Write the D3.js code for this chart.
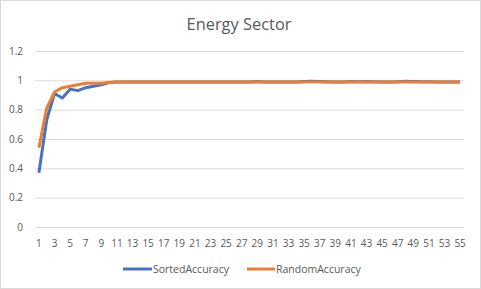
<!DOCTYPE html>
<html><head><meta charset="utf-8">
<script src="https://cdn.jsdelivr.net/npm/d3@7"></script>
<style>body{margin:0;background:#fff}svg{display:block}text{font-family:"Open Sans","Liberation Sans",sans-serif}</style>
</head><body><svg id="c" width="481" height="289"></svg>
<script>
const categories = d3.range(1, 56);
const sortedAccuracy = [0.37,0.73,0.91,0.88,0.94,0.93,0.95,0.96,0.97,0.985,
0.988,0.988,0.988,0.988,0.988,0.988,0.988,0.988,0.988,0.988,
0.988,0.988,0.988,0.988,0.988,0.988,0.988,0.988,0.992,0.988,
0.988,0.988,0.988,0.988,0.992,0.993,0.992,0.991,0.988,0.988,
0.992,0.991,0.992,0.990,0.988,0.988,0.991,0.993,0.992,0.991,
0.991,0.988,0.988,0.988,0.988];
const randomAccuracy = [0.54,0.81,0.92,0.95,0.96,0.97,0.98,0.98,0.98,0.985,
0.988,0.988,0.988,0.988,0.988,0.988,0.988,0.988,0.988,0.988,
0.988,0.988,0.988,0.988,0.988,0.988,0.988,0.988,0.988,0.988,
0.988,0.988,0.988,0.988,0.988,0.988,0.988,0.988,0.988,0.988,
0.988,0.988,0.988,0.988,0.988,0.988,0.988,0.988,0.988,0.988,
0.988,0.988,0.988,0.988,0.988];
const yTicks = [0,0.2,0.4,0.6,0.8,1,1.2];
const seriesNames = ["SortedAccuracy","RandomAccuracy"];
const colors = ["#4472C4","#ED7D31"];

const svg = d3.select("#c");
svg.append("rect").attr("x",0.5).attr("y",0.5).attr("width",480).attr("height",288)
  .attr("fill","#fff").attr("stroke","#d9d9d9");
const x = d3.scaleBand().domain(categories).range([35,464]);
const y = d3.scaleLinear().domain([0,1.2]).range([227,51]);

svg.append("text").attr("x",239).attr("y",30).attr("text-anchor","middle")
  .attr("font-size",16.4).attr("fill","#595959").text("Energy Sector");

const gy = svg.append("g").attr("transform","translate(35,0)")
  .call(d3.axisLeft(y).tickValues(yTicks).tickSize(-429).tickFormat(d=>d3.format("~g")(d)).tickPadding(12));
gy.select(".domain").remove();
gy.selectAll(".tick line").attr("stroke","#d9d9d9");
gy.selectAll(".tick text").attr("fill","#595959").attr("font-size",10);

const gx = svg.append("g").attr("transform","translate(0,227)")
  .call(d3.axisBottom(x).tickValues(categories.filter(d=>d%2===1)).tickSize(0).tickPadding(13));
gx.select(".domain").remove();
gx.selectAll(".tick text").attr("fill","#595959").attr("font-size",10);

const line = d3.line().x((d,i)=>x(categories[i])+x.bandwidth()/2).y(d=>y(d));
[sortedAccuracy, randomAccuracy].forEach((s,k)=>{
  svg.append("path").datum(s).attr("d",line).attr("fill","none")
    .attr("stroke",colors[k]).attr("stroke-width",3).attr("stroke-linejoin","round");
});

const lg = [{x0:123,x1:152,tx:153},{x0:247,x1:275,tx:276}];
seriesNames.forEach((n,k)=>{
  svg.append("line").attr("x1",lg[k].x0).attr("x2",lg[k].x1).attr("y1",269).attr("y2",269)
    .attr("stroke",colors[k]).attr("stroke-width",3);
  svg.append("text").attr("x",lg[k].tx).attr("y",272.5).attr("font-size",10.5)
    .attr("fill","#595959").text(n);
});
</script></body></html>
